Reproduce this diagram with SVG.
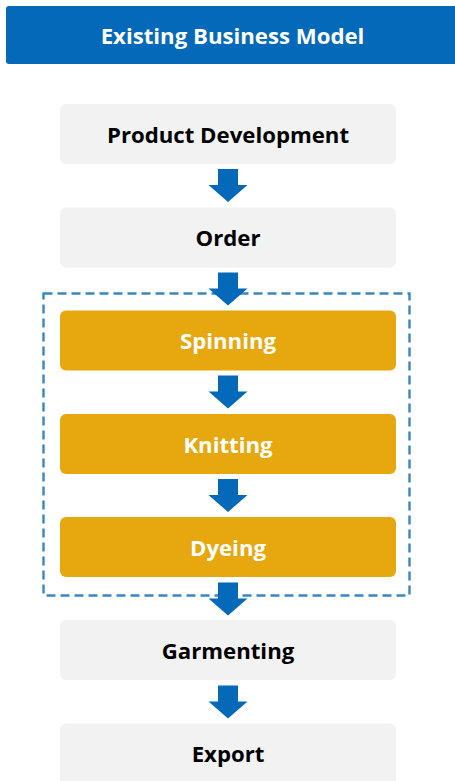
<svg xmlns="http://www.w3.org/2000/svg" width="455" height="781" viewBox="0 0 455 781">
<style>
.t{font-family:"Open Sans","Liberation Sans",sans-serif;font-weight:700;font-size:22.2px;text-anchor:middle;dominant-baseline:central}
.g{fill:#F2F2F2}
.y{fill:#E6A80E}
.k{fill:#000}
.w{fill:#FFF}
.a{fill:#0369B8}
</style>
<rect width="455" height="781" fill="#FFFFFF"/>
<g id="header">
<rect x="6" y="6" width="460" height="58" rx="3" fill="#0369B8"/>
<text class="t w" x="232.5" y="35">Existing Business Model</text>
</g>
<g id="group-box">
<rect x="43.5" y="293.5" width="366" height="302" fill="none" stroke="#3A87C0" stroke-width="2.4" stroke-dasharray="9 5"/>
</g>
<g id="product-development">
<rect class="g" x="60" y="104" width="336" height="60" rx="6"/>
<text class="t k" x="228" y="134">Product Development</text>
</g>
<g id="order">
<rect class="g" x="60" y="207.5" width="336" height="60" rx="6"/>
<text class="t k" x="228" y="237.5">Order</text>
</g>
<g id="spinning">
<rect class="y" x="60" y="310.5" width="336" height="60" rx="6"/>
<text class="t w" x="228" y="340.5">Spinning</text>
</g>
<g id="knitting">
<rect class="y" x="60" y="414" width="336" height="60" rx="6"/>
<text class="t w" x="228" y="444">Knitting</text>
</g>
<g id="dyeing">
<rect class="y" x="60" y="517" width="336" height="60" rx="6"/>
<text class="t w" x="228" y="547">Dyeing</text>
</g>
<g id="garmenting">
<rect class="g" x="60" y="620" width="336" height="60" rx="6"/>
<text class="t k" x="228" y="650">Garmenting</text>
</g>
<g id="export">
<rect class="g" x="60" y="723.5" width="336" height="64" rx="6"/>
<text class="t k" x="228" y="753.5">Export</text>
</g>
<g id="connectors">
<defs>
<path id="arr" d="M-10 0 H10 V16 H19.5 L0 33 L-19.5 16 H-10 Z"/>
</defs>
<use href="#arr" class="a" x="228" y="169"/>
<use href="#arr" class="a" x="228" y="272.5"/>
<use href="#arr" class="a" x="228" y="375.5"/>
<use href="#arr" class="a" x="228" y="479"/>
<use href="#arr" class="a" x="228" y="582.5"/>
<use href="#arr" class="a" x="228" y="685.5"/>
</g>
</svg>
